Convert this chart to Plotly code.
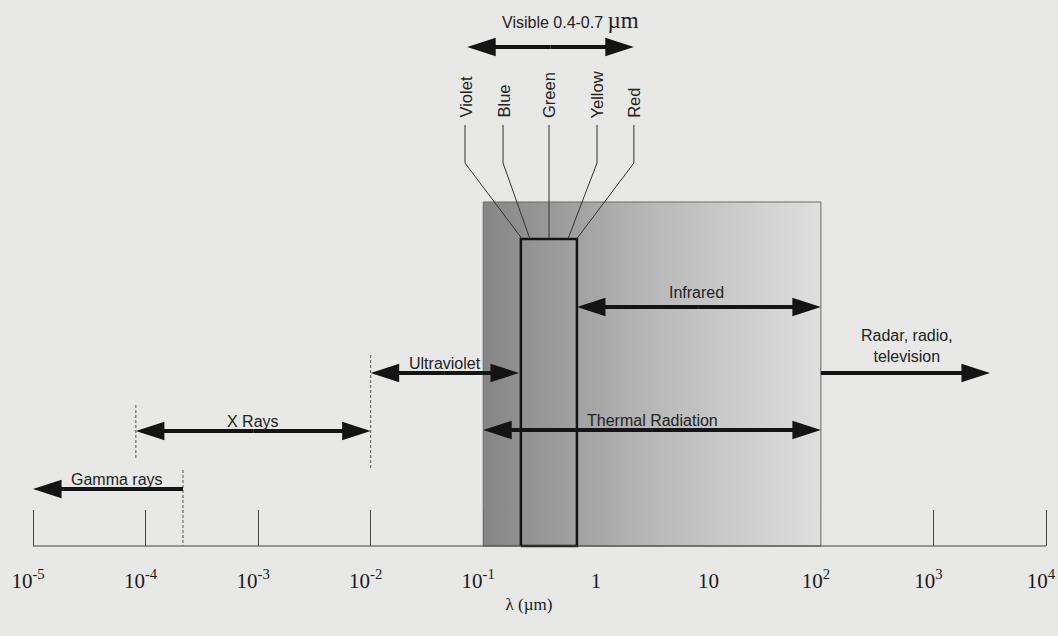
import numpy as np
import plotly.graph_objects as go

# ---------------- data (wavelengths in µm) ----------------
tick_vals = [1e-5, 1e-4, 1e-3, 1e-2, 1e-1, 1, 10, 1e2, 1e3, 1e4]
tick_text = ["10<sup>-5</sup>", "10<sup>-4</sup>", "10<sup>-3</sup>", "10<sup>-2</sup>",
             "10<sup>-1</sup>", "\u00a0\u00a01", "\u00a0\u00a010",
             "10<sup>2</sup>", "10<sup>3</sup>", "10<sup>4</sup>"]

band_names = ["Gamma rays", "X Rays", "Ultraviolet", "Thermal Radiation",
              "Infrared", "Radar, radio,<br>television", "Visible 0.4-0.7 "]
band_start = [2.15e-4, 8.2e-5, 0.01, 0.1, 0.68, 100, 0.072]
band_end = [1e-5, 0.01, 0.208, 100, 100, 3180, 2.18]
band_double = [False, True, True, True, True, False, True]
band_label_x = [5.6e-5, 9.0e-4, 0.0457, 3.16, 7.9, 582, 0.596]

thermal_box = [0.1, 100]
visible_box = [0.216, 0.68]

color_names = ["Violet", "Blue", "Green", "Yellow", "Red"]
color_label_x = [0.0689, 0.150, 0.384, 1.025, 2.18]
color_line_end = [0.222, 0.26, 0.384, 0.566, 0.675]

divider_x = [8.2e-5, 0.01, 2.15e-4]

# ---------------- layout (pixel rows) ----------------
H, W = 636, 1058
band_row = [489, 431, 373, 430, 307, 373, 47]
band_label_row = [479, 421, 363, 420, 292, 346, 20]
divider_rows = [(405, 460), (355, 470), (470, 546)]
base_row, box_top, vis_top = 546, 202, 239
ink = "#141414"
sans = "Liberation Sans, Arial, sans-serif"
serif = "Liberation Serif, Times New Roman, serif"

fig = go.Figure()

# gradient box (thermal radiation range)
x0, x1 = thermal_box
fig.add_trace(go.Scatter(
    x=[x0, x1, x1, x0, x0], y=[base_row, base_row, box_top, box_top, base_row],
    mode="lines", fill="toself",
    fillgradient=dict(type="horizontal",
                      colorscale=[[0, "#858585"], [0.5, "#b8b8b8"], [1, "#dfdfdf"]]),
    line=dict(color="#6a6a6a", width=1), hoverinfo="skip", showlegend=False))

# visible box
v0, v1 = visible_box
fig.add_trace(go.Scatter(
    x=[v0, v1, v1, v0, v0], y=[base_row, base_row, vis_top, vis_top, base_row],
    mode="lines", line=dict(color=ink, width=2.5), hoverinfo="skip", showlegend=False))

# baseline
fig.add_trace(go.Scatter(x=[tick_vals[0], tick_vals[-1]], y=[base_row, base_row],
                         mode="lines", line=dict(color="#444", width=1),
                         hoverinfo="skip", showlegend=False))

# dashed dividers
for xv, (r0, r1) in zip(divider_x, divider_rows):
    fig.add_trace(go.Scatter(x=[xv, xv], y=[r0, r1], mode="lines",
                             line=dict(color="#555", width=1, dash="3px,2px"),
                             hoverinfo="skip", showlegend=False))

# colour leader lines
for lx, ex in zip(color_label_x, color_line_end):
    fig.add_trace(go.Scatter(x=[lx, lx, ex], y=[125, 163, vis_top], mode="lines",
                             line=dict(color="#333", width=1),
                             hoverinfo="skip", showlegend=False))


def half_arrow(xa, xb, y):
    fig.add_trace(go.Scatter(
        x=[xa, xb], y=[y, y], mode="lines+markers",
        line=dict(color=ink, width=4),
        marker=dict(symbol="arrow", size=[0, 30], angleref="previous",
                    color=ink, opacity=1, line=dict(width=0)),
        hoverinfo="skip", showlegend=False))


for s, e, dbl, row in zip(band_start, band_end, band_double, band_row):
    if dbl:
        mid = float(np.sqrt(s * e))
        half_arrow(mid, s, row)
        half_arrow(mid, e, row)
    else:
        half_arrow(s, e, row)

# band labels
for i, (name, lx, ly) in enumerate(zip(band_names, band_label_x, band_label_row)):
    txt = name
    if i == len(band_names) - 1:
        txt = name + "<span style='font-family:Liberation Serif;font-size:23px'>µm</span>"
    fig.add_annotation(x=np.log10(lx), y=ly, text=txt, showarrow=False,
                       font=dict(family=sans, size=16, color="#222"),
                       xanchor="center", yanchor="middle")

# colour labels (rotated)
for name, lx in zip(color_names, color_label_x):
    fig.add_annotation(x=np.log10(lx), y=120, text=name, showarrow=False,
                       textangle=-90, font=dict(family=sans, size=16.5, color="#222"),
                       xanchor="center", yanchor="bottom")

fig.update_layout(
    width=W, height=H, margin=dict(l=0, r=0, t=0, b=0),
    paper_bgcolor="#e8e8e7", plot_bgcolor="#e8e8e7",
    xaxis=dict(type="log", range=[-5.2932, 4.1066], tickvals=tick_vals, ticktext=tick_text,
               ticks="inside", ticklen=36, tickwidth=1, tickcolor="#444",
               showgrid=False, zeroline=False, showline=False,
               anchor="free", position=(H - base_row) / H, layer="below traces",
               tickfont=dict(family=serif, size=21, color="#1a1a1a"),
               ticklabelstandoff=20, ticklabelshift=-5, ticklabeloverflow="allow",
               title=dict(text="λ (µm)", font=dict(family=serif, size=17, color="#1a1a1a"),
                          standoff=6)),
    yaxis=dict(range=[H, 0], visible=False, fixedrange=True),
    showlegend=False,
)

fig.write_html("out.html", config={"displayModeBar": False},
               post_script="document.body.style.margin='0';document.body.style.background='#e8e8e7';")
